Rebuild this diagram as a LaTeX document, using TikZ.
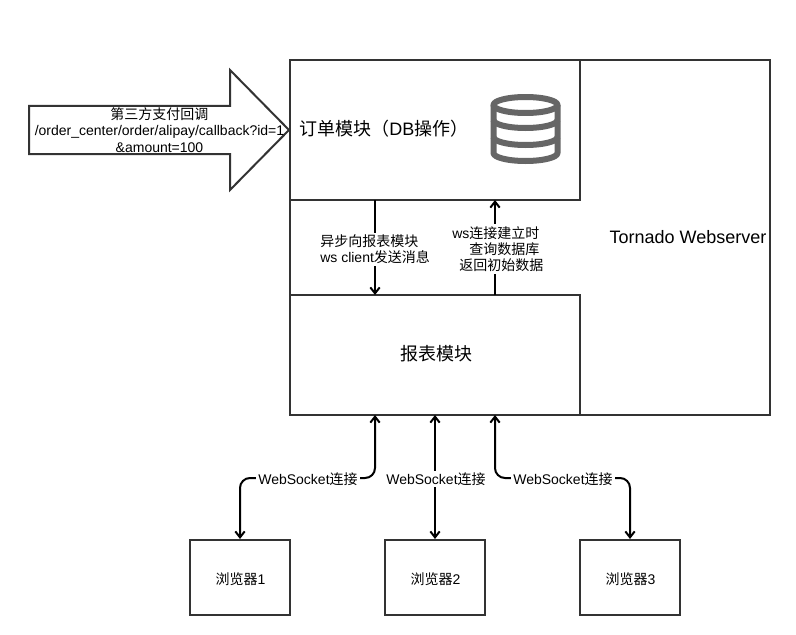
\documentclass[tikz,border=0pt]{standalone}
\usepackage{fontspec}
\setmainfont{Liberation Sans}
\newfontfamily\cjkfont{Noto Sans CJK SC}
\newcommand{\zh}[1]{{\cjkfont #1}}
\usetikzlibrary{arrows.meta}
\definecolor{edgegray}{HTML}{333333}
\definecolor{icongray}{HTML}{666666}
\tikzset{
  boxstyle/.style={draw=edgegray,line width=1.5pt,fill=white},
  conn/.style={draw=black,line width=1.5pt,-{Straight Barb[length=4.5pt,width=7pt,line width=1.5pt]}},
  biconn/.style={draw=black,line width=1.5pt,{Straight Barb[length=4.5pt,width=7pt,line width=1.5pt]}-{Straight Barb[length=4.5pt,width=7pt,line width=1.5pt]},rounded corners=7.5pt},
  smalltxt/.style={font=\fontsize{10.5pt}{12pt}\selectfont,text=black},
  bigtxt/.style={font=\fontsize{13.5pt}{16pt}\selectfont,text=black},
  connlabel/.style={smalltxt,fill=white,inner sep=1.5pt},
  dbline/.style={draw=icongray,line width=4.5pt,line join=round}
}
\begin{document}
\begin{tikzpicture}[x=0.75pt,y=-0.75pt]
\useasboundingbox[fill=white] (0,0) rectangle (796,635);
% boxes
\draw[boxstyle] (290,60) rectangle (770,415);
\draw[boxstyle] (290,60) rectangle (580,200);
\draw[boxstyle] (290,295) rectangle (580,415);
\node[boxstyle,minimum width=75pt,minimum height=56.25pt,inner sep=0pt] (b1) at (240,577.5) {};
\node[boxstyle,minimum width=75pt,minimum height=56.25pt,inner sep=0pt] (b2) at (435,577.5) {};
\node[boxstyle,minimum width=75pt,minimum height=56.25pt,inner sep=0pt] (b3) at (630,577.5) {};
\node[smalltxt,inner sep=0pt] (b1t) at (240.5,579) {\zh{浏览器}1};
\node[smalltxt,inner sep=0pt] (b2t) at (435.5,579) {\zh{浏览器}2};
\node[smalltxt,inner sep=0pt] (b3t) at (630.5,579) {\zh{浏览器}3};
% big arrow
\draw[boxstyle] (29,106) -- (230,106) -- (230,70) -- (289,130) -- (230,190) -- (230,154) -- (29,154) -- cycle;
\node[font=\fontsize{10.5pt}{12.3pt}\selectfont,align=center,inner sep=0pt] (cb) at (159.5,130) {\zh{第三方支付回调}\\/order\_center/order/alipay/callback?id=1\\\&amount=100};
% titles
\node[bigtxt,anchor=west,inner sep=0pt] (ordertxt) at (299,128.5) {\zh{订单模块（}DB\zh{操作）}};
\node[bigtxt,inner sep=0pt] (reporttxt) at (436,354) {\zh{报表模块}};
\node[bigtxt,inner sep=0pt] (tornado) at (688,237) {Tornado Webserver};
% database icon
\draw[dbline] (525.5,105) ellipse [x radius=24pt,y radius=6pt];
\draw[dbline] (493.5,105) -- (493.5,153) arc [start angle=180,end angle=360,x radius=24pt,y radius=6pt] -- (557.5,105);
\draw[dbline] (493.5,120) arc [start angle=180,end angle=360,x radius=24pt,y radius=6pt];
\draw[dbline] (493.5,137) arc [start angle=180,end angle=360,x radius=24pt,y radius=6pt];
% connector ends
\coordinate (o1) at (375,200);
\coordinate (o2) at (495,200);
\coordinate (r1) at (375,295);
\coordinate (r2) at (495,295);
\coordinate (s1) at (375,415);
\coordinate (s2) at (435,415);
\coordinate (s3) at (495,415);
% connectors
\draw[conn] (o1) -- (r1);
\draw[conn] (r2) -- (o2);
\draw[biconn] (s1) |- (b1.north |- 0,478) -- (b1.north);
\draw[biconn] (s2) -- (b2.north);
\draw[biconn] (s3) |- (b3.north |- 0,478) -- (b3.north);
% labels
\node[connlabel,align=left,anchor=west] (lab1) at (318,249.5) {\zh{异步向报表模块}\\ws client\zh{发送消息}};
\node[connlabel,align=left,anchor=west] (lab2) at (450,249) {ws\zh{连接建立时}\\\hspace*{12.75pt}\zh{查询数据库}\\\hspace*{5.25pt}\zh{返回初始数据}};
\node[connlabel] (w1) at (308,479) {WebSocket\zh{连接}};
\node[connlabel] (w2) at (436,479) {WebSocket\zh{连接}};
\node[connlabel] (w3) at (563,479) {WebSocket\zh{连接}};
\end{tikzpicture}
\end{document}
